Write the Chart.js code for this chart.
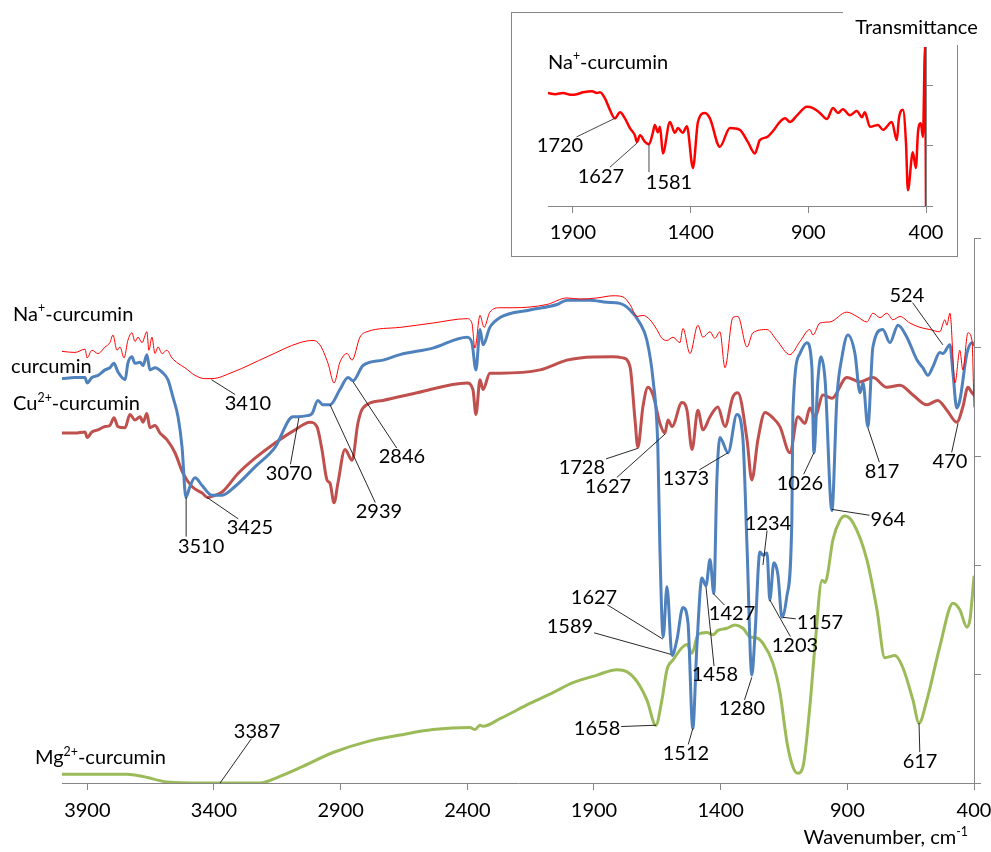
<!DOCTYPE html>
<html>
<head>
<meta charset="utf-8">
<script src="https://cdn.jsdelivr.net/npm/chart.js@4.4.1/dist/chart.umd.min.js"></script>
<style>
  html, body { margin: 0; padding: 0; background: #fff; }
  #wrap { position: relative; width: 991px; height: 852px; }
  #main { position: absolute; left: 0; top: 0; }
  #inset { position: absolute; left: 505px; top: 0; }
</style>
</head>
<body>
<div id="wrap">
  <canvas id="main" width="991" height="852"></canvas>
  <canvas id="inset" width="486" height="262"></canvas>
</div>
<script>
// wavenumber (cm-1), transmittance (arbitrary units, spectra offset)
const naCurcumin = [[4000,3.96],[3949,3.95],[3909,3.98],[3901,3.90],[3882,3.97],[3858,3.94],[3830,4.00],[3811,4.04],[3799,4.11],[3783,3.97],[3771,4.00],[3755,3.90],[3740,4.06],[3724,4.13],[3712,4.05],[3700,4.09],[3684,4.04],[3665,4.14],[3657,3.97],[3645,4.09],[3633,3.94],[3621,4.00],[3605,3.94],[3586,3.97],[3566,3.90],[3542,3.85],[3515,3.81],[3475,3.74],[3436,3.71],[3408,3.71],[3325,3.77],[3191,3.91],[3061,4.04],[3009,4.06],[2982,4.02],[2950,3.85],[2926,3.67],[2903,3.86],[2875,3.94],[2855,3.88],[2824,4.09],[2796,4.14],[2666,4.18],[2536,4.22],[2401,4.26],[2382,4.22],[2370,3.99],[2350,4.29],[2334,4.18],[2311,4.32],[2271,4.36],[2220,4.36],[2086,4.39],[2007,4.45],[1955,4.44],[1888,4.45],[1825,4.47],[1786,4.46],[1758,4.39],[1730,4.28],[1707,4.29],[1679,4.25],[1652,4.16],[1632,4.08],[1612,4.06],[1588,4.09],[1561,4.04],[1549,4.17],[1521,3.94],[1490,4.20],[1470,4.09],[1442,4.14],[1423,4.08],[1403,4.14],[1383,3.81],[1352,4.27],[1332,4.28],[1296,4.00],[1273,4.13],[1217,4.16],[1178,4.06],[1127,3.93],[1087,4.05],[1048,4.16],[1036,4.11],[1008,4.22],[969,4.23],[902,4.32],[862,4.28],[823,4.23],[799,4.31],[771,4.27],[744,4.31],[720,4.25],[692,4.28],[653,4.22],[613,4.18],[574,4.16],[535,4.14],[515,4.25],[507,4.20],[495,4.31],[475,3.67],[456,3.97],[444,3.79],[424,4.13],[408,4.06],[400,3.45]];

const curcumin = [[4000,3.71],[3949,3.72],[3909,3.72],[3901,3.67],[3882,3.72],[3858,3.74],[3830,3.79],[3811,3.81],[3795,3.85],[3779,3.77],[3751,3.70],[3740,3.85],[3724,3.91],[3712,3.85],[3692,3.86],[3680,3.83],[3665,3.93],[3653,3.79],[3633,3.81],[3605,3.77],[3582,3.70],[3562,3.54],[3542,3.36],[3526,3.08],[3511,2.62],[3495,2.72],[3475,2.80],[3447,2.73],[3408,2.64],[3368,2.64],[3317,2.72],[3238,2.90],[3159,3.08],[3088,3.36],[3069,3.36],[3033,3.37],[3013,3.39],[2990,3.51],[2970,3.47],[2942,3.47],[2903,3.61],[2871,3.72],[2851,3.69],[2812,3.83],[2733,3.88],[2666,3.93],[2536,3.99],[2401,4.09],[2382,4.04],[2366,3.79],[2350,4.16],[2338,4.02],[2311,4.18],[2271,4.27],[2153,4.34],[2046,4.39],[2007,4.43],[1916,4.43],[1849,4.41],[1798,4.40],[1758,4.34],[1719,4.22],[1691,4.06],[1667,3.70],[1648,3.08],[1640,2.17],[1627,1.34],[1612,1.80],[1592,1.17],[1573,1.31],[1549,1.61],[1529,1.47],[1510,0.50],[1494,1.25],[1474,1.88],[1458,1.81],[1442,2.05],[1427,1.74],[1415,2.78],[1403,3.17],[1371,3.03],[1336,3.38],[1312,3.15],[1296,2.17],[1277,0.99],[1265,1.34],[1245,2.12],[1233,2.09],[1217,2.11],[1206,1.68],[1190,2.02],[1174,1.91],[1158,1.52],[1139,1.71],[1119,2.41],[1115,3.39],[1087,3.94],[1060,4.04],[1040,3.82],[1032,3.03],[1016,3.70],[1004,3.91],[988,3.70],[961,2.50],[941,3.54],[921,3.91],[898,4.11],[870,3.94],[850,3.58],[838,3.67],[819,3.27],[799,4.00],[760,4.16],[732,4.04],[700,4.20],[665,4.09],[625,3.88],[602,3.81],[582,3.74],[562,3.82],[535,3.95],[523,3.94],[495,4.02],[483,3.76],[468,3.44],[456,3.51],[428,3.94],[408,4.04],[400,4.02]];

const cuCurcumin = [[4000,3.21],[3949,3.21],[3909,3.22],[3901,3.17],[3882,3.22],[3858,3.24],[3830,3.27],[3811,3.28],[3795,3.35],[3779,3.27],[3751,3.26],[3732,3.38],[3712,3.33],[3692,3.36],[3680,3.31],[3665,3.39],[3653,3.26],[3633,3.28],[3613,3.21],[3586,3.15],[3554,3.03],[3522,2.84],[3487,2.72],[3447,2.66],[3425,2.62],[3408,2.63],[3368,2.67],[3305,2.84],[3238,2.98],[3159,3.12],[3080,3.24],[3021,3.31],[2994,3.27],[2974,3.06],[2954,2.78],[2942,2.75],[2926,2.57],[2911,2.75],[2883,3.06],[2855,2.96],[2832,3.30],[2812,3.44],[2733,3.51],[2599,3.58],[2401,3.67],[2378,3.61],[2366,3.38],[2350,3.70],[2338,3.61],[2311,3.76],[2271,3.76],[2113,3.79],[2007,3.88],[1955,3.90],[1825,3.91],[1786,3.90],[1758,3.82],[1738,3.33],[1727,3.08],[1707,3.45],[1687,3.63],[1667,3.56],[1640,3.30],[1620,3.21],[1608,3.33],[1592,3.27],[1553,3.49],[1533,3.42],[1513,3.06],[1490,3.42],[1470,3.24],[1442,3.36],[1411,3.45],[1383,3.27],[1352,3.54],[1332,3.58],[1296,3.15],[1277,2.78],[1253,3.15],[1225,3.40],[1194,3.35],[1166,3.27],[1127,3.03],[1095,3.36],[1067,3.30],[1048,3.44],[1028,3.36],[996,3.56],[961,3.53],[902,3.72],[850,3.68],[799,3.72],[744,3.63],[692,3.65],[641,3.56],[586,3.47],[543,3.51],[507,3.42],[468,3.31],[444,3.45],[424,3.63],[408,3.58],[400,3.56]];

const mgCurcumin = [[4000,0.08],[3743,0.08],[3680,0.06],[3586,0.01],[3404,0.00],[3218,0.00],[3151,0.05],[3061,0.14],[2930,0.28],[2796,0.38],[2666,0.44],[2536,0.49],[2390,0.51],[2370,0.49],[2350,0.53],[2338,0.52],[2271,0.59],[2153,0.73],[2062,0.83],[1983,0.92],[1888,0.99],[1809,1.04],[1770,1.02],[1730,0.93],[1691,0.76],[1656,0.53],[1632,0.76],[1612,1.04],[1588,1.13],[1549,1.25],[1533,1.27],[1513,1.19],[1490,1.36],[1454,1.38],[1430,1.36],[1411,1.40],[1375,1.42],[1344,1.45],[1312,1.42],[1284,1.34],[1257,1.33],[1233,1.28],[1194,1.10],[1166,0.83],[1138,0.37],[1115,0.15],[1095,0.09],[1075,0.15],[1048,0.70],[1028,1.25],[1000,1.86],[988,1.84],[980,1.89],[957,2.23],[929,2.41],[910,2.45],[878,2.39],[823,2.05],[783,1.59],[752,1.15],[712,1.17],[681,1.06],[641,0.76],[617,0.55],[586,0.76],[535,1.25],[483,1.65],[456,1.59],[428,1.43],[416,1.50],[400,1.89]];

// inset: Na+-curcumin, 2000-400 cm-1
const naInset = [[2006,1.87],[1975,1.85],[1942,1.87],[1910,1.84],[1883,1.85],[1857,1.88],[1819,1.90],[1798,1.87],[1785,1.88],[1764,1.78],[1743,1.59],[1722,1.45],[1700,1.55],[1679,1.45],[1658,1.29],[1637,1.17],[1628,1.06],[1615,1.17],[1594,1.06],[1577,1.02],[1560,1.22],[1552,1.34],[1539,1.22],[1530,1.31],[1518,0.87],[1488,1.39],[1467,1.21],[1454,1.29],[1433,1.21],[1416,1.32],[1390,0.63],[1369,1.39],[1339,1.54],[1318,1.45],[1276,0.98],[1233,1.29],[1191,1.26],[1157,1.06],[1127,0.87],[1106,1.09],[1076,1.14],[1050,1.24],[1021,1.39],[999,1.45],[978,1.39],[948,1.50],[906,1.64],[880,1.62],[851,1.54],[821,1.44],[795,1.62],[774,1.54],[753,1.60],[723,1.50],[694,1.57],[672,1.47],[660,1.55],[638,1.31],[604,1.34],[583,1.26],[545,1.39],[524,1.09],[515,1.45],[498,1.59],[485,1.04],[477,0.26],[456,0.89],[443,0.63],[434,1.22],[422,1.37],[413,1.14],[404,2.63],[400,0.00]];

const mainTicks = [3900, 3400, 2900, 2400, 1900, 1400, 900, 400];
const mainLevels = [0, 1, 2, 3, 4, 5];
const insetTicks = [1900, 1400, 900, 400];
const insetLevels = [0, 1, 2];

// peak labels: text, peak (wn, T), label centre (wn, T), optional leader end (wn, T)
const mainPeaks = [
  ['3410', 3410, 3.70, 3266, 3.49],
  ['3510', 3510, 2.62, 3451, 2.18, 3510, 2.26],
  ['3425', 3428, 2.62, 3258, 2.35],
  ['3070', 3065, 3.35, 3104, 2.85],
  ['2939', 2942, 3.47, 2749, 2.50],
  ['2846', 2851, 3.68, 2658, 3.00],
  ['1728', 1727, 3.07, 1948, 2.90],
  ['1627', 1620, 3.20, 1845, 2.73],
  ['1373', 1371, 3.03, 1537, 2.80],
  ['1026', 1032, 3.03, 1087, 2.76],
  ['964', 961, 2.51, 740, 2.43],
  ['817', 819, 3.26, 763, 2.87],
  ['524', 523, 4.02, 665, 4.48],
  ['470', 463, 3.30, 495, 2.96],
  ['1234', 1233, 2.00, 1213, 2.39],
  ['1627', 1628, 1.32, 1900, 1.71],
  ['1589', 1596, 1.18, 1995, 1.44],
  ['1427', 1430, 1.74, 1355, 1.56],
  ['1458', 1458, 1.80, 1423, 1.00],
  ['1157', 1154, 1.52, 1008, 1.48],
  ['1203', 1206, 1.68, 1107, 1.27],
  ['1280', 1277, 0.97, 1316, 0.69],
  ['1658', 1655, 0.53, 1888, 0.51],
  ['1512', 1510, 0.50, 1537, 0.28],
  ['617', 617, 0.55, 613, 0.21],
  ['3387', 3376, 0.00, 3230, 0.48]
];
const insetPeaks = [
  ['1720', 1722, 1.45, 1955, 1.01],
  ['1627', 1628, 1.04, 1781, 0.51],
  ['1581', 1577, 1.02, 1492, 0.40, 1577, 0.56]
];

// series names: rich text parts [text, superscript], left anchor (wn, T)
const mainNames = [
  [[['Na'], ['+', 1], ['-curcumin']], 4193, 4.30],
  [[['curcumin']], 4201, 3.82],
  [[['Cu'], ['2+', 1], ['-curcumin']], 4193, 3.48],
  [[['Mg'], ['2+', 1], ['-curcumin']], 4107, 0.23]
];

const FONT = 'Lato';
const FS = 20;
Chart.defaults.font.family = FONT;
Chart.defaults.font.size = FS;
Chart.defaults.color = '#000';

const toXY = arr => arr.map(p => ({ x: p[0], y: p[1] }));

function drawRich(ctx, parts, x, y, align, size) {
  const widths = parts.map(p => {
    ctx.font = (p[1] ? size * 0.62 : size) + 'px ' + FONT;
    return ctx.measureText(p[0]).width;
  });
  const w = widths.reduce((a, b) => a + b, 0);
  let cx = align === 'right' ? x - w : align === 'center' ? x - w / 2 : x;
  ctx.textAlign = 'left';
  ctx.textBaseline = 'middle';
  parts.forEach((p, i) => {
    ctx.font = (p[1] ? size * 0.62 : size) + 'px ' + FONT;
    ctx.fillText(p[0], cx, p[1] ? y - size * 0.3 : y);
    cx += widths[i];
  });
}

function drawPeaks(chart, list, color) {
  const { ctx, scales: { x, y } } = chart;
  ctx.save();
  ctx.font = FS + 'px ' + FONT;
  ctx.strokeStyle = color;
  ctx.lineWidth = 0.9;
  ctx.fillStyle = '#000';
  ctx.textAlign = 'center';
  ctx.textBaseline = 'middle';
  list.forEach(([txt, pw, pt, lw, lt, ew, et]) => {
    const px = x.getPixelForValue(pw), py = y.getPixelForValue(pt);
    const lx = x.getPixelForValue(lw), ly = y.getPixelForValue(lt);
    let ex, ey;
    if (ew !== undefined) {
      ex = x.getPixelForValue(ew); ey = y.getPixelForValue(et);
    } else {
      const hw = ctx.measureText(txt).width / 2 + 1, hh = FS * 0.4;
      const dx = px - lx, dy = py - ly;
      const t = Math.min(dx ? hw / Math.abs(dx) : Infinity, dy ? hh / Math.abs(dy) : Infinity);
      ex = lx + dx * t; ey = ly + dy * t;
    }
    ctx.beginPath();
    ctx.moveTo(px, py);
    ctx.lineTo(ex, ey);
    ctx.stroke();
    ctx.fillText(txt, lx, ly + 1);
  });
  ctx.restore();
}

const axisGrey = '#868686';
const fixedTicks = list => scale => { scale.ticks = list.map(v => ({ value: v })); };
const plainLabel = v => String(v);

const mainLabels = {
  id: 'mainLabels',
  afterDatasetsDraw(chart) {
    const { ctx, scales: { x, y } } = chart;
    drawPeaks(chart, mainPeaks, '#111');
    ctx.save();
    ctx.fillStyle = '#000';
    mainNames.forEach(([parts, w, t]) => drawRich(ctx, parts, x.getPixelForValue(w), y.getPixelForValue(t), 'left', FS));
    drawRich(ctx, [['Wavenumber, cm'], ['-1', 1]], x.getPixelForValue(424), y.getPixelForValue(-0.5), 'right', FS);
    ctx.restore();
  }
};

new Chart(document.getElementById('main'), {
  type: 'line',
  data: {
    datasets: [
      { label: 'Na+-curcumin', data: toXY(naCurcumin), borderColor: '#FF0000', borderWidth: 1 },
      { label: 'curcumin', data: toXY(curcumin), borderColor: '#4F81BD', borderWidth: 3 },
      { label: 'Cu2+-curcumin', data: toXY(cuCurcumin), borderColor: '#C0504D', borderWidth: 3 },
      { label: 'Mg2+-curcumin', data: toXY(mgCurcumin), borderColor: '#9BBB59', borderWidth: 3 }
    ]
  },
  options: {
    responsive: false,
    animation: false,
    layout: { padding: { left: 62, top: 238, right: 7, bottom: 19 } },
    elements: { point: { radius: 0 }, line: { cubicInterpolationMode: 'monotone', borderCapStyle: 'round', borderJoinStyle: 'round' } },
    plugins: { legend: { display: false }, tooltip: { enabled: false } },
    scales: {
      x: {
        type: 'linear', reverse: true, min: 400, max: 4000,
        afterBuildTicks: fixedTicks(mainTicks),
        afterFit: s => { s.height = 50; s.paddingLeft = 0; s.paddingRight = 0; },
        ticks: { padding: 9, maxRotation: 0, autoSkip: false, callback: plainLabel },
        grid: { drawOnChartArea: false, tickLength: 7, color: axisGrey },
        border: { color: axisGrey }
      },
      y: {
        type: 'linear', position: 'right', min: 0, max: 5,
        afterBuildTicks: fixedTicks(mainLevels),
        afterFit: s => { s.width = 10; },
        ticks: { display: false },
        grid: { drawOnChartArea: false, tickLength: 7, color: axisGrey },
        border: { color: axisGrey }
      }
    }
  },
  plugins: [mainLabels]
});

const insetFrame = {
  id: 'insetFrame',
  beforeDraw(chart) {
    const { ctx } = chart;
    ctx.save();
    ctx.fillStyle = '#fff';
    ctx.fillRect(6, 12, 447, 245);
    ctx.strokeStyle = axisGrey;
    ctx.lineWidth = 1;
    ctx.strokeRect(6.5, 12.5, 446, 244);
    ctx.restore();
  },
  afterDatasetsDraw(chart) {
    const { ctx, scales: { x, y } } = chart;
    drawPeaks(chart, insetPeaks, '#333');
    ctx.save();
    ctx.fillStyle = '#fff';
    ctx.fillRect(338, 8, 148, 37);
    ctx.fillStyle = '#000';
    drawRich(ctx, [['Na'], ['+', 1], ['-curcumin']], x.getPixelForValue(2006), y.getPixelForValue(2.38), 'left', FS);
    drawRich(ctx, [['Transmittance']], x.getPixelForValue(180), y.getPixelForValue(2.96), 'right', FS);
    ctx.restore();
  }
};

new Chart(document.getElementById('inset'), {
  type: 'line',
  data: {
    datasets: [
      { label: 'Na+-curcumin', data: toXY(naInset), borderColor: '#FF0000', borderWidth: 2.5 }
    ]
  },
  options: {
    responsive: false,
    animation: false,
    layout: { padding: { left: 43, top: 47, right: 55, bottom: 16 } },
    elements: { point: { radius: 0 }, line: { cubicInterpolationMode: 'monotone', borderJoinStyle: 'round' } },
    plugins: { legend: { display: false }, tooltip: { enabled: false } },
    scales: {
      x: {
        type: 'linear', reverse: true, min: 400, max: 2006,
        afterBuildTicks: fixedTicks(insetTicks),
        afterFit: s => { s.height = 40; s.paddingLeft = 0; s.paddingRight = 0; },
        ticks: { padding: 8, maxRotation: 0, autoSkip: false, callback: plainLabel },
        grid: { drawOnChartArea: false, tickLength: 7, color: axisGrey },
        border: { color: axisGrey }
      },
      y: {
        type: 'linear', position: 'right', min: 0, max: 2.63,
        afterBuildTicks: fixedTicks(insetLevels),
        afterFit: s => { s.width = 10; },
        ticks: { display: false },
        grid: { drawOnChartArea: false, tickLength: 7, color: axisGrey },
        border: { color: axisGrey }
      }
    }
  },
  plugins: [insetFrame]
});
</script>
</body>
</html>
